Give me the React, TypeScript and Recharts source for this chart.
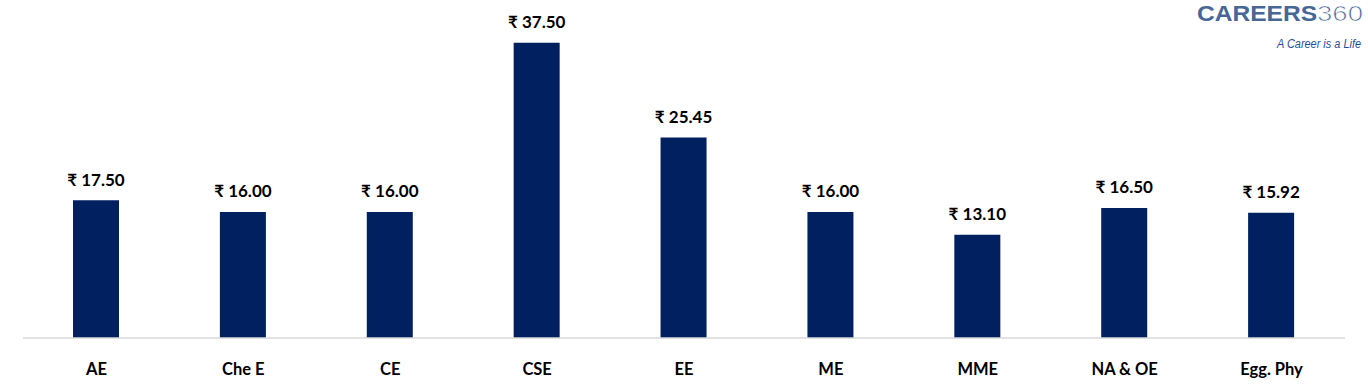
import React from 'react';
import { BarChart, Bar, XAxis, YAxis, LabelList } from 'recharts';

const branches = ['AE', 'Che E', 'CE', 'CSE', 'EE', 'ME', 'MME', 'NA & OE', 'Egg. Phy'];
const fees = [17.5, 16.0, 16.0, 37.5, 25.45, 16.0, 13.1, 16.5, 15.92];

const FONT = 'Lato, "Noto Sans", sans-serif';

const data = branches.map((b, i) => ({ name: b, value: fees[i] }));

const AxisTick = (props: any) => {
  const { x, y, payload } = props;
  return (
    <text x={x} y={y + 25} textAnchor="middle" dominantBaseline="middle" fontFamily={FONT} fontWeight={700} fontSize={16.5} fill="#000">
      {payload.value}
    </text>
  );
};

const ValueLabel = (props: any) => {
  const { x, y, width, value } = props;
  return (
    <text x={x + width / 2} y={y - 19} textAnchor="middle" dominantBaseline="middle" fontFamily={FONT} fontWeight={700} fontSize={17} fill="#000">
      {`₹ ${Number(value).toFixed(2)}`}
    </text>
  );
};

const Logo = () => (
  <svg width={180} height={56} style={{ position: 'absolute', left: 1186, top: 0, overflow: 'visible' }}>
    <text x={11} y={21} fontFamily='"Liberation Sans", Arial, sans-serif' fontWeight={700} fontSize={22} fill="#476797" textLength={120} lengthAdjust="spacingAndGlyphs">
      CAREERS
    </text>
    <text x={131} y={21} fontFamily='"Liberation Sans", Arial, sans-serif' fontSize={22} fill="#476797" textLength={46} lengthAdjust="spacingAndGlyphs" stroke="#fff" strokeWidth={0.7}>
      360
    </text>
    <text x={175} y={48} textAnchor="end" fontFamily='"Liberation Sans", Arial, sans-serif' fontStyle="italic" fontSize={12} fill="#1f4e9a" textLength={84} lengthAdjust="spacingAndGlyphs">
      A Career is a Life
    </text>
  </svg>
);

export default function App() {
  return (
    <div style={{ position: 'absolute', left: 0, top: 0, width: 1368, height: 388, background: '#fff' }}>
      <BarChart width={1368} height={388} data={data} margin={{ top: 23, right: 23, bottom: 0, left: 23 }} barCategoryGap={0}>
        <XAxis
          dataKey="name"
          height={50}
          tickLine={false}
          axisLine={{ stroke: '#d9d9d9', strokeWidth: 1.5 }}
          tick={<AxisTick />}
          interval={0}
        />
        <YAxis hide domain={[0, 40]} />
        <Bar dataKey="value" fill="#002060" barSize={46} isAnimationActive={false}>
          <LabelList dataKey="value" content={<ValueLabel />} />
        </Bar>
      </BarChart>
      <Logo />
    </div>
  );
}
